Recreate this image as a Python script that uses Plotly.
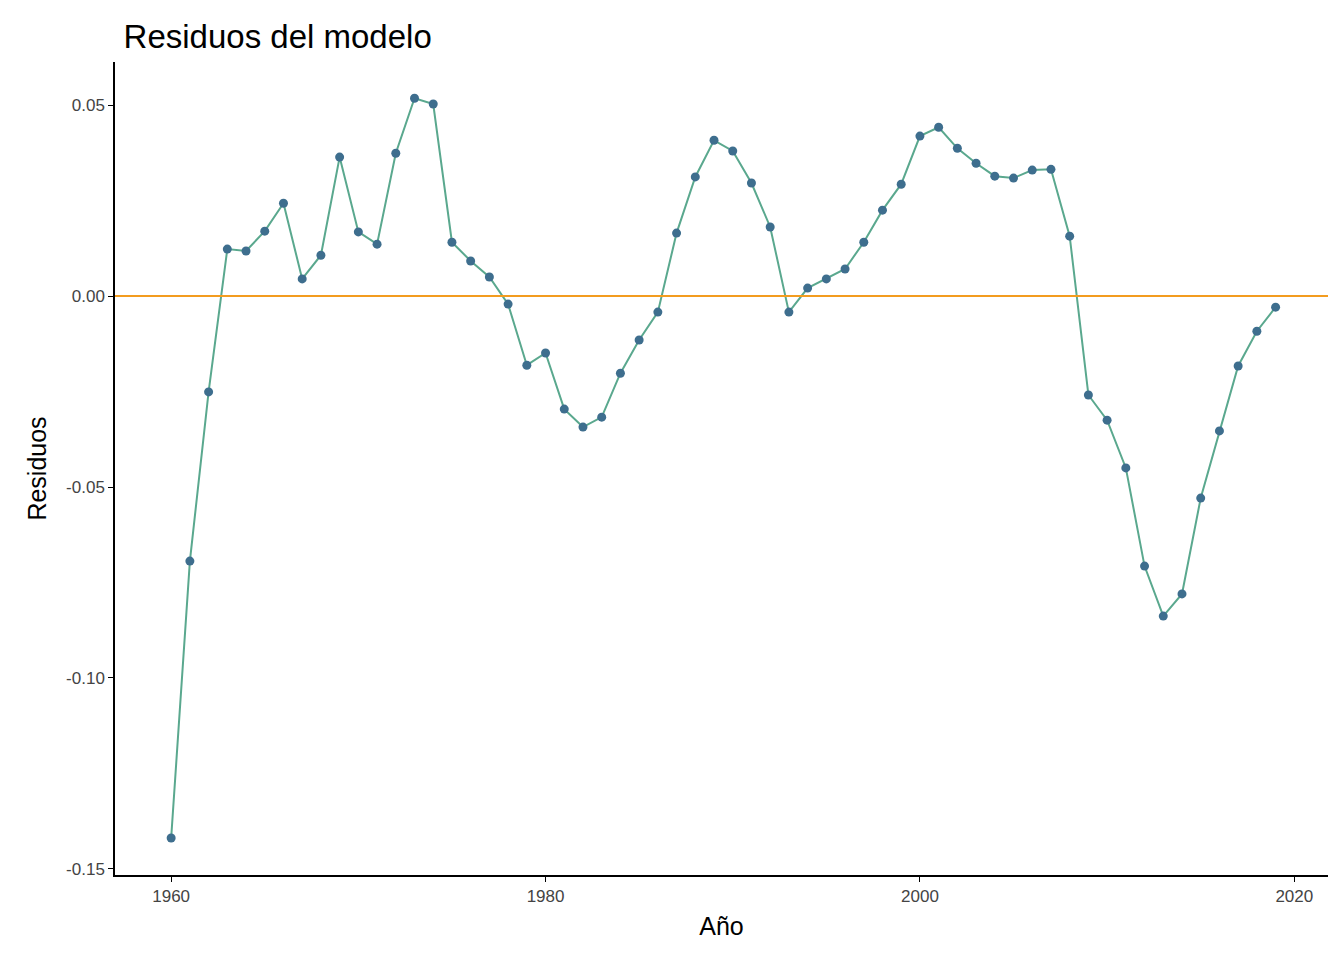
import plotly.graph_objects as go

years = list(range(1960, 2020))
residuos = [-0.1419, -0.0694, -0.0251, 0.0123, 0.0118, 0.0170, 0.0243, 0.0045, 0.0107, 0.0364,
            0.0168, 0.0136, 0.0374, 0.0518, 0.0503, 0.0141, 0.0092, 0.0050, -0.0021, -0.0181,
            -0.0149, -0.0296, -0.0343, -0.0317, -0.0202, -0.0115, -0.0042, 0.0165, 0.0312, 0.0408,
            0.0380, 0.0296, 0.0181, -0.0042, 0.0021, 0.0045, 0.0071, 0.0141, 0.0225, 0.0293,
            0.0419, 0.0442, 0.0387, 0.0348, 0.0314, 0.0309, 0.0330, 0.0332, 0.0157, -0.0259,
            -0.0325, -0.0450, -0.0707, -0.0838, -0.0780, -0.0529, -0.0353, -0.0183, -0.0092, -0.0029]
y_ticks = [-0.15, -0.10, -0.05, 0.0, 0.05]
y_labels = ["-0.15", "-0.10", "-0.05", "0.00", "0.05"]

fig = go.Figure()
fig.add_hline(y=0, line=dict(color="#F39C1F", width=2))
fig.add_trace(go.Scatter(x=years, y=residuos, mode="lines", line=dict(color="#5AA88E", width=2),
                         showlegend=False))
fig.add_trace(go.Scatter(x=years, y=residuos, mode="markers", marker=dict(color="#3E6E8E", size=9),
                         showlegend=False))

axis_common = dict(showgrid=False, zeroline=False, showline=True, linecolor="black", linewidth=1.5,
                   ticks="outside", ticklen=5, tickcolor="black",
                   tickfont=dict(size=17, color="#444444"), title_font=dict(size=25, color="black"))
fig.update_layout(
    width=1344, height=960,
    plot_bgcolor="white", paper_bgcolor="white",
    font=dict(family="Liberation Sans, Arial, sans-serif"),
    margin=dict(l=107, r=24, t=54, b=93),
    title=dict(text="Residuos del modelo", x=0.086, xref="container", y=0.97, yanchor="middle",
               font=dict(size=33, color="black")),
    xaxis=dict(title=dict(text="Año", standoff=12), range=[1957.0, 2021.8],
               tickvals=[1960, 1980, 2000, 2020], **axis_common),
    yaxis=dict(title=dict(text="Residuos", standoff=12), range=[-0.1516, 0.0613],
               tickvals=y_ticks, ticktext=y_labels, **axis_common),
)
fig.write_html("out.html")
